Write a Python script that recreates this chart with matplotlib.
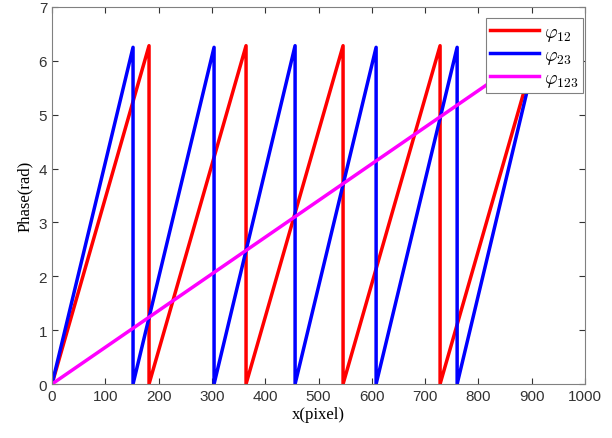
import matplotlib
matplotlib.use("Agg")
import matplotlib.pyplot as plt

# vertices (sawtooth wrapped phases)
TWO_PI = 6.28
red_x = [0, 182, 182, 364, 364, 546, 546, 728, 728, 900]
red_y = [0, TWO_PI, 0, TWO_PI, 0, TWO_PI, 0, TWO_PI, 0, 5.93]
blue_x = [0, 152, 152, 304, 304, 456, 456, 608, 608, 760, 760, 900]
blue_y = [0, 6.25, 0, 6.25, 0, 6.28, 0, 6.25, 0, 6.25, 0, 5.8]
mag_x = [0, 900]
mag_y = [0, 6.13]

plt.rcParams['mathtext.fontset'] = 'cm'

fig = plt.figure(figsize=(6.12, 4.39), dpi=100)
ax = fig.add_axes([0.085, 0.123, 0.871, 0.859])

ax.plot(red_x, red_y, color='#ff0000', lw=2.5, label=r'$\varphi_{12}$')
ax.plot(blue_x, blue_y, color='#0000ff', lw=2.5, label=r'$\varphi_{23}$')
ax.plot(mag_x, mag_y, color='#ff00ff', lw=2.5, label=r'$\varphi_{123}$')

ax.set_xlim(0, 1000)
ax.set_ylim(0, 7)
ax.set_xticks(range(0, 1001, 100))
ax.set_yticks(range(0, 8))
ax.tick_params(direction='in', top=True, right=True, labelsize=11,
               colors='#333333', length=4)
for lab in ax.get_xticklabels() + ax.get_yticklabels():
    lab.set_fontfamily('Liberation Sans')
for sp in ax.spines.values():
    sp.set_color('#808080')

ax.set_xlabel('x(pixel)', family='Liberation Serif', fontsize=12, labelpad=2)
ax.set_ylabel('Phase(rad)', family='Liberation Serif', fontsize=12, labelpad=4)

leg = ax.legend(loc='upper right', bbox_to_anchor=(0.996, 0.971),
                fontsize=14, fancybox=False, framealpha=1,
                edgecolor='#808080', handlelength=2.5, borderaxespad=0,
                labelspacing=0.1, handletextpad=0.3, borderpad=0.2)
leg.get_frame().set_linewidth(0.8)

fig.savefig('out.png', dpi=100)
